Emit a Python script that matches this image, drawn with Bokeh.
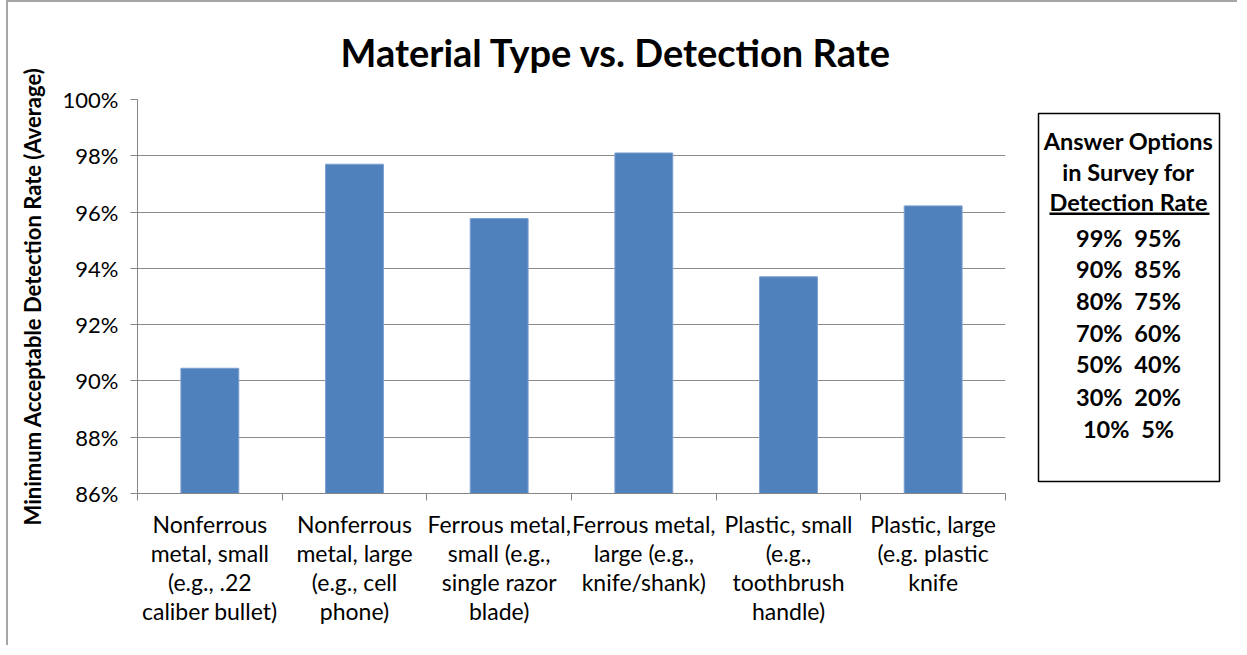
from bokeh.plotting import figure
from bokeh.layouts import row
from bokeh.models import (Range1d, FixedTicker, PrintfTickFormatter, CustomJSTickFormatter,
                          ColumnDataSource)
from bokeh.core.properties import value
from bokeh.embed import file_html
from bokeh.resources import INLINE

# ---- data ----
categories = [
    "Nonferrous\nmetal, small\n(e.g., .22\ncaliber bullet)",
    "Nonferrous\nmetal, large\n(e.g., cell\nphone)",
    "Ferrous metal,\nsmall (e.g.,\nsingle razor\nblade)",
    "Ferrous metal,\nlarge (e.g.,\nknife/shank)",
    "Plastic, small\n(e.g.,\ntoothbrush\nhandle)",
    "Plastic, large\n(e.g. plastic\nknife",
]
detection_rate = [90.45, 97.7, 95.77, 98.1, 93.7, 96.22]
y_ticks = [86, 88, 90, 92, 94, 96, 98, 100]
answer_options = [99, 95, 90, 85, 80, 75, 70, 60, 50, 40, 30, 20, 10, 5]
title_text = "Material Type vs. Detection Rate"
y_label_text = "Minimum Acceptable Detection Rate (Average)"
legend_header = ["Answer Options", "in Survey for", "Detection Rate"]

FONT = "Lato"
OX, OY = 8, 2            # page offset of the figures
H = 645
FRAME_TOP, FRAME_BOTTOM = 99, 493   # page coordinates of the plot area
FRAME_LEFT, MAIN_RIGHT = 137, 1032

# ---------------- main chart ----------------
p = figure(width=MAIN_RIGHT - OX, height=H, output_backend="svg", toolbar_location=None,
           x_range=Range1d(0, 6), y_range=Range1d(86, 100),
           min_border_left=FRAME_LEFT - OX, min_border_right=MAIN_RIGHT - 1005,
           min_border_top=FRAME_TOP - OY, min_border_bottom=H - (FRAME_BOTTOM - OY))
p.outline_line_color = None
p.background_fill_color = "white"
p.border_fill_color = "white"

p.title.text = title_text
p.title.text_font = FONT
p.title.text_font_style = "bold"
p.title.text_font_size = "38px"
p.title.text_color = "#000000"
p.title.align = "left"
p.title.offset = 203
p.title.standoff = 49

xs = [i + 0.5 for i in range(len(categories))]
src = ColumnDataSource(dict(x=xs, top=detection_rate))
p.vbar(x="x", top="top", bottom=86, width=0.4, source=src,
       fill_color="#4F81BD", line_color="#7C9FCF", line_width=1)

# y axis
yax = p.yaxis[0]
yax.ticker = FixedTicker(ticks=y_ticks)
yax.formatter = PrintfTickFormatter(format="%d%%")
yax.major_tick_out = 7
yax.major_tick_in = 0
yax.minor_tick_out = 0
yax.minor_tick_in = 0
yax.axis_line_color = "#868686"
yax.major_tick_line_color = "#868686"
yax.major_label_text_font = FONT
yax.major_label_text_font_size = "22px"
yax.major_label_text_color = "#000000"
yax.major_label_standoff = 12
yax.axis_label = y_label_text
yax.axis_label_text_font = FONT
yax.axis_label_text_font_style = "bold"
yax.axis_label_text_font_size = "22px"
yax.axis_label_text_color = "#000000"
yax.axis_label_standoff = 14

p.ygrid.ticker = FixedTicker(ticks=y_ticks)
p.ygrid.grid_line_color = "#8C8C8C"
p.ygrid.grid_line_width = 1
p.xgrid.grid_line_color = None

# x axis: labels at category centres, tick marks at boundaries
xax = p.xaxis[0]
xax.ticker = FixedTicker(ticks=xs, minor_ticks=list(range(len(categories) + 1)))
xax.formatter = CustomJSTickFormatter(args=dict(labels=categories),
                                      code="const i = Math.floor(tick); return labels[i] || '';")
xax.major_tick_out = 0
xax.major_tick_in = 0
xax.minor_tick_out = 7
xax.minor_tick_in = 0
xax.minor_tick_line_color = "#868686"
xax.axis_line_color = "#868686"
xax.major_label_text_font = FONT
xax.major_label_text_font_size = "23px"
xax.major_label_text_color = "#000000"
xax.major_label_text_line_height = 1.04
xax.major_label_standoff = 9

# ---------------- legend panel (page coordinates; frame aligned with main frame) ----------------
LW = 1239 - MAIN_RIGHT
q = figure(width=LW, height=H, output_backend="svg", toolbar_location=None,
           x_range=Range1d(MAIN_RIGHT, MAIN_RIGHT + LW), y_range=Range1d(FRAME_BOTTOM, FRAME_TOP),
           min_border_left=0, min_border_right=0,
           min_border_top=FRAME_TOP - OY, min_border_bottom=H - (FRAME_BOTTOM - OY))
q.axis.visible = False
q.grid.visible = False
q.outline_line_color = None
q.background_fill_color = "white"
q.border_fill_color = "white"

q.quad(left=[1038], right=[1219], top=[113], bottom=[481],
       fill_color="white", line_color="#000000", line_width=1.5)

cx = 1128
header_y = [140, 171, 201]
q.text(x=[cx] * len(legend_header), y=header_y, text=legend_header,
       text_font=value(FONT), text_font_style="bold", text_font_size="23.5px",
       text_align="center", text_baseline="middle", text_color="#000000")
q.quad(left=[1049], right=[1209], top=[212], bottom=[214.5],
       fill_color="#000000", line_color=None)

row_y = [237, 268, 300, 332, 363, 396, 428]
row_text = [f"{answer_options[2 * k]}%\u2002{answer_options[2 * k + 1]}%" for k in range(len(row_y))]
q.text(x=[cx] * len(row_y), y=row_y, text=row_text,
       text_font=value(FONT), text_font_style="bold", text_font_size="23.5px",
       text_align="center", text_baseline="middle", text_color="#000000")

# chart-area border (top and left edges) drawn as a shadow so it takes no layout space
layout = row(p, q, margin=(OY, 0, 0, OX),
             styles={"box-shadow": "-2px -2px 0 0 #A6A6A6"})
open("out.html", "w").write(file_html(layout, INLINE))
